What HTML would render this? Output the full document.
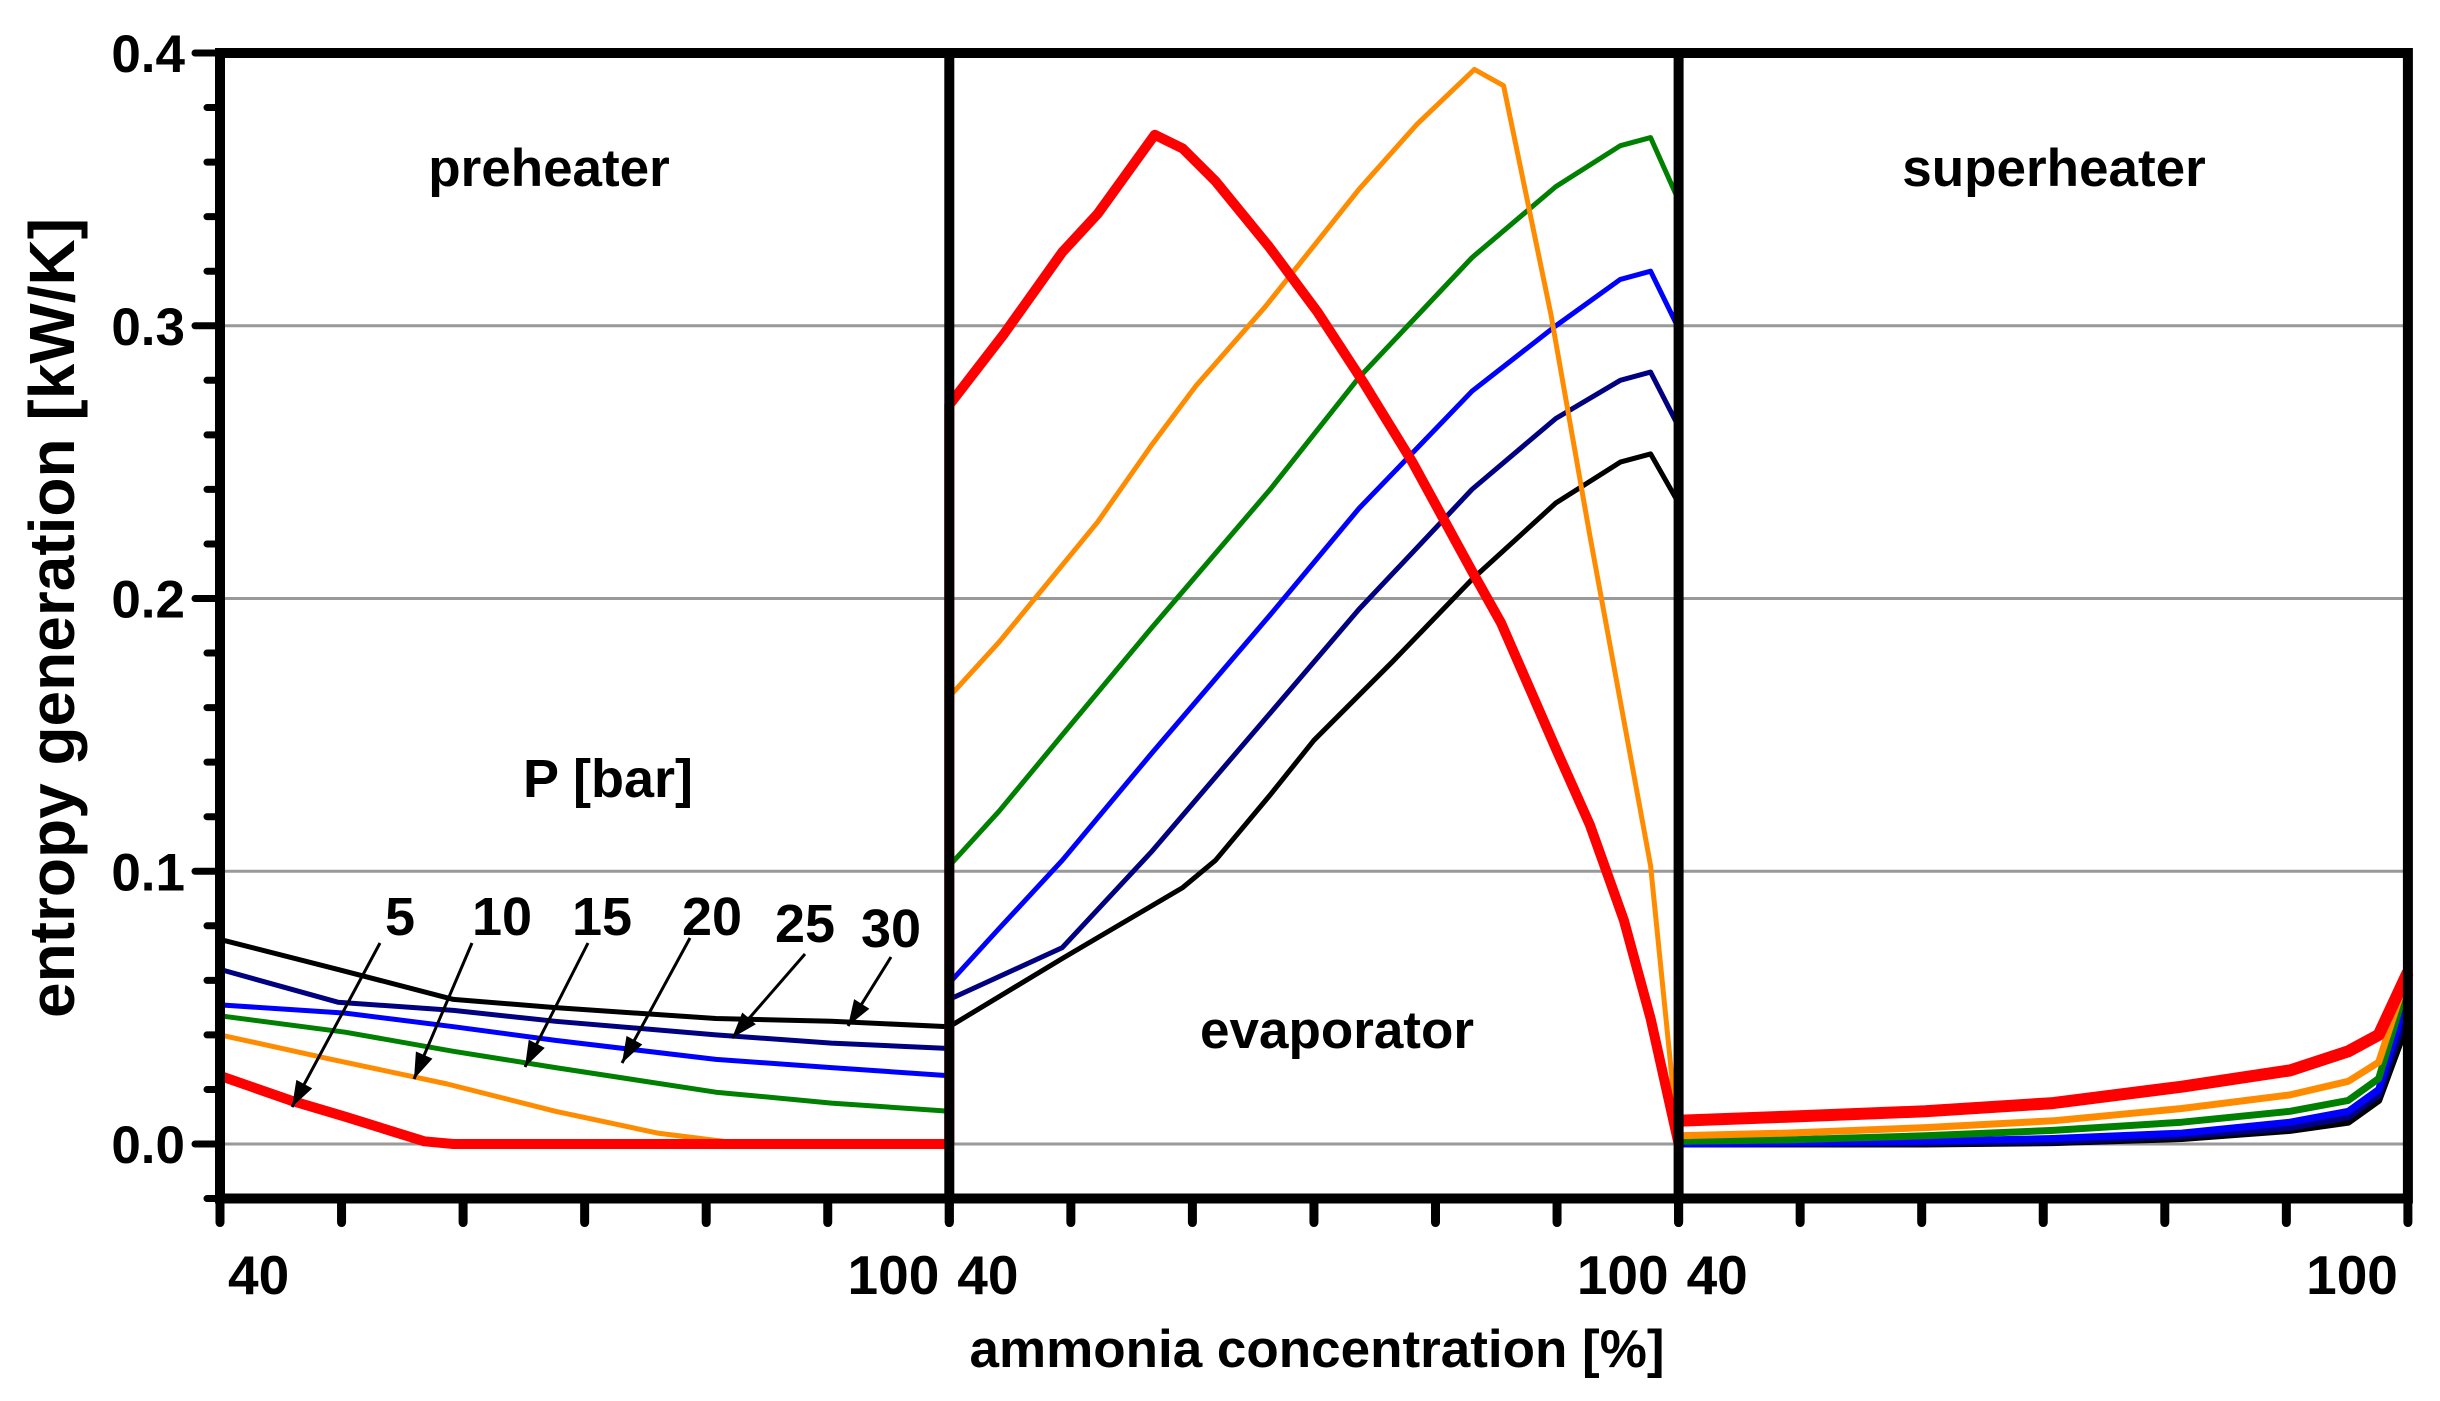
<!DOCTYPE html>
<html><head><meta charset="utf-8"><style>
html,body{margin:0;padding:0;background:#fff;}
svg{display:block;font-family:"Liberation Sans",Arial,sans-serif;font-weight:bold;}
</style></head><body>
<svg id="chart" width="2440" height="1401" viewBox="0 0 2440 1401" xmlns="http://www.w3.org/2000/svg">
<g id="grid"></g><g id="series"></g><g id="axes"></g><g id="labels"></g>
</svg>
<script>
const panels = ["preheater","evaporator","superheater"];
const xTicks = [40,50,60,70,80,90,100];
const yMajor = [0.0,0.1,0.2,0.3,0.4];
const yTickLabels = ["0.0","0.1","0.2","0.3","0.4"];
const seriesNames = ["p5","p10","p15","p20","p25","p30"];
const pressureLabels = ["5","10","15","20","25","30"];
// preheater
const preX = [[40,45.8,50.3,56.8,59.2,100],[40,49.2,58.7,67.6,76,83.2,100],[40,50.3,59.2,67.6,80.8,90.3,100],[40,50.3,59.2,67.6,80.8,90.3,100],[40,49.7,59.2,67.6,80.8,90.3,100],[40,49.7,59.2,67.6,80.8,90.3,100]];
const preY = [[0.025,0.016,0.010,0.001,0,0],[0.040,0.031,0.022,0.012,0.004,0,0],[0.047,0.041,0.034,0.028,0.019,0.015,0.012],[0.051,0.048,0.043,0.038,0.031,0.028,0.025],[0.064,0.052,0.049,0.045,0.040,0.037,0.035],[0.075,0.064,0.053,0.050,0.046,0.045,0.043]];
// evaporator
const evX = [[40,40,44.5,49.3,52.2,56.9,59.2,61.9,66.3,70.3,74.1,78.1,83,85.4,89.9,92.7,95.5,97.7,100],[40,44.1,52.2,56.6,60.3,66,73.7,78.5,83.2,85.6,89.5,92.7,97.7,100],[40,44.1,49.3,56.6,66.4,73.7,83,89.9,95.2,97.7,100],[40,44.1,49.3,56.6,66.4,73.7,83,89.9,95.2,97.7,100],[40,49.3,56.6,66.4,73.7,83,89.9,95.2,97.7,100],[40,49.3,59.2,61.9,66.4,70,76.5,83,89.9,95.2,97.7,100]];
const evY = [[0,0.271,0.297,0.327,0.341,0.370,0.365,0.353,0.329,0.305,0.279,0.250,0.210,0.191,0.145,0.117,0.082,0.046,0],[0.164,0.184,0.228,0.256,0.278,0.307,0.350,0.374,0.394,0.388,0.304,0.223,0.102,0],[0.102,0.122,0.150,0.189,0.240,0.281,0.325,0.351,0.366,0.369,0.346],[0.059,0.079,0.104,0.143,0.194,0.233,0.276,0.300,0.317,0.320,0.299],[0.053,0.072,0.107,0.158,0.196,0.240,0.266,0.280,0.283,0.263],[0.043,0.068,0.094,0.104,0.128,0.148,0.177,0.207,0.235,0.250,0.253,0.235]];
// superheater
const supX = [40,48.9,60.3,70.8,81.4,90.3,95.1,97.6,100];
const supY = [[0.0085,0.010,0.012,0.015,0.021,0.027,0.034,0.040,0.063],[0.003,0.004,0.006,0.0085,0.013,0.018,0.023,0.030,0.063],[0.001,0.0015,0.003,0.005,0.008,0.012,0.016,0.024,0.060],[0,0.0005,0.001,0.002,0.004,0.008,0.012,0.020,0.055],[0,0,0.0005,0.001,0.003,0.006,0.010,0.018,0.050],[0,0,0,0.0005,0.002,0.005,0.008,0.016,0.045]];

const colors=["#ff0000","#ff8c00","#008000","#0000ff","#000080","#000000"];
const widths=[10,5,5,5,5,5];
const NS="http://www.w3.org/2000/svg";
const L=220,P=729.3,Y0=1144,YS=2727.5,YMIN=-0.02;
function sx(panel,v){return L+panel*P+(v-40)/60*P;}
function sy(v){return Y0-v*YS;}
function mk(tag,attrs,parent){const e=document.createElementNS(NS,tag);for(const k in attrs)e.setAttribute(k,attrs[k]);parent.appendChild(e);return e;}
const grid=document.getElementById('grid'),ser=document.getElementById('series'),ax=document.getElementById('axes'),lab=document.getElementById('labels');
yMajor.forEach((v,i)=>{if(v>=0.4)return;const g=mk('line',{x1:L,x2:L+3*P,y1:sy(v),y2:sy(v),stroke:'#999','stroke-width':3},grid);

});
function poly(panel,xs,ys,i,name,w){const d=xs.map((x,j)=>(j?'L':'M')+sx(panel,x).toFixed(1)+','+sy(ys[j]).toFixed(1)).join(' ');
const p=mk('path',{d:d,fill:'none',stroke:colors[i],'stroke-width':w,'stroke-linejoin':'round'},ser);

}
for(let i=5;i>=0;i--){poly(0,preX[i],preY[i],i,'preheater-line-'+seriesNames[i],widths[i]);}
for(let i=5;i>=0;i--){poly(1,evX[i],evY[i],i,'evaporator-line-'+seriesNames[i],widths[i]);}
for(let i=5;i>=0;i--){poly(2,supX,supY[i],i,'superheater-line-'+seriesNames[i],widths[i]+2);}
const yb=sy(YMIN),yt=sy(0.4);
const frame=mk('path',{d:`M${L},${yt} H${L+3*P} V${yb} H${L} Z`,fill:'none',stroke:'#000','stroke-width':10,'stroke-linecap':'round'},ax);


for(let k=1;k<3;k++){const d=mk('line',{x1:L+k*P,x2:L+k*P,y1:yt-4,y2:yb,stroke:'#000','stroke-width':10},ax);

}
for(let v=-0.02;v<=0.401;v+=0.02){const major=Math.abs(Math.round(v*10)-v*10)<1e-6;
const t=mk('line',{x1:major?L-25:L-13,x2:L,y1:sy(v),y2:sy(v),stroke:'#000','stroke-width':7,'stroke-linecap':'round'},ax);

}
yMajor.forEach((v,i)=>{const t=mk('text',{x:185,y:sy(v)+19,'text-anchor':'end','font-size':53},lab);t.textContent=yTickLabels[i];

});
for(let p=0;p<3;p++){xTicks.forEach(v=>{const t=mk('line',{x1:sx(p,v),x2:sx(p,v),y1:yb,y2:yb+24,stroke:'#000','stroke-width':9,'stroke-linecap':'round'},ax);

});
const a=mk('text',{x:sx(p,40)+8,y:1294,'font-size':55},lab);a.textContent=String(xTicks[0]);


const b=mk('text',{x:sx(p,100)-10,y:1294,'text-anchor':'end','font-size':55},lab);b.textContent=String(xTicks[6]);

}
const lblX=[400,502,602,712,805,891],lblY=[935,935,935,935,942,947];
const arr=[[380,943,292,1107],[472,943,414,1079],[588,943,525,1067],[690,938,622,1063],[805,954,732,1038],[891,957,848,1026]];
pressureLabels.forEach((s,i)=>{const t=mk('text',{x:lblX[i],y:lblY[i],'text-anchor':'middle','font-size':54},lab);t.textContent=s;


const a=arr[i];const l=mk('line',{x1:a[0],y1:a[1],x2:a[2],y2:a[3],stroke:'#000','stroke-width':3},lab);


const dx=a[2]-a[0],dy=a[3]-a[1],len=Math.hypot(dx,dy),ux=dx/len,uy=dy/len;
const h=mk('path',{d:`M${a[2]},${a[3]} L${a[2]-ux*26-uy*9},${a[3]-uy*26+ux*9} L${a[2]-ux*26+uy*9},${a[3]-uy*26-ux*9} Z`,fill:'#000'},lab);

});
</script>
<svg style="position:absolute;left:0;top:0" width="2440" height="1401">
<text x="549" y="186" text-anchor="middle" font-size="53" font-family="Liberation Sans, sans-serif" font-weight="bold">preheater</text>
<text x="1337" y="1048" text-anchor="middle" font-size="53" font-family="Liberation Sans, sans-serif" font-weight="bold">evaporator</text>
<text x="2054" y="186" text-anchor="middle" font-size="53" font-family="Liberation Sans, sans-serif" font-weight="bold">superheater</text>
<text x="608" y="797" text-anchor="middle" font-size="54" font-family="Liberation Sans, sans-serif" font-weight="bold">P [bar]</text>
<text x="1317" y="1367" text-anchor="middle" font-size="53" font-family="Liberation Sans, sans-serif" font-weight="bold">ammonia concentration [%]</text>
<text x="0" y="0" text-anchor="middle" font-size="64" font-family="Liberation Sans, sans-serif" font-weight="bold" transform="translate(74,618) rotate(-90)">entropy generation [kW/K]</text>
</svg>
</body></html>
